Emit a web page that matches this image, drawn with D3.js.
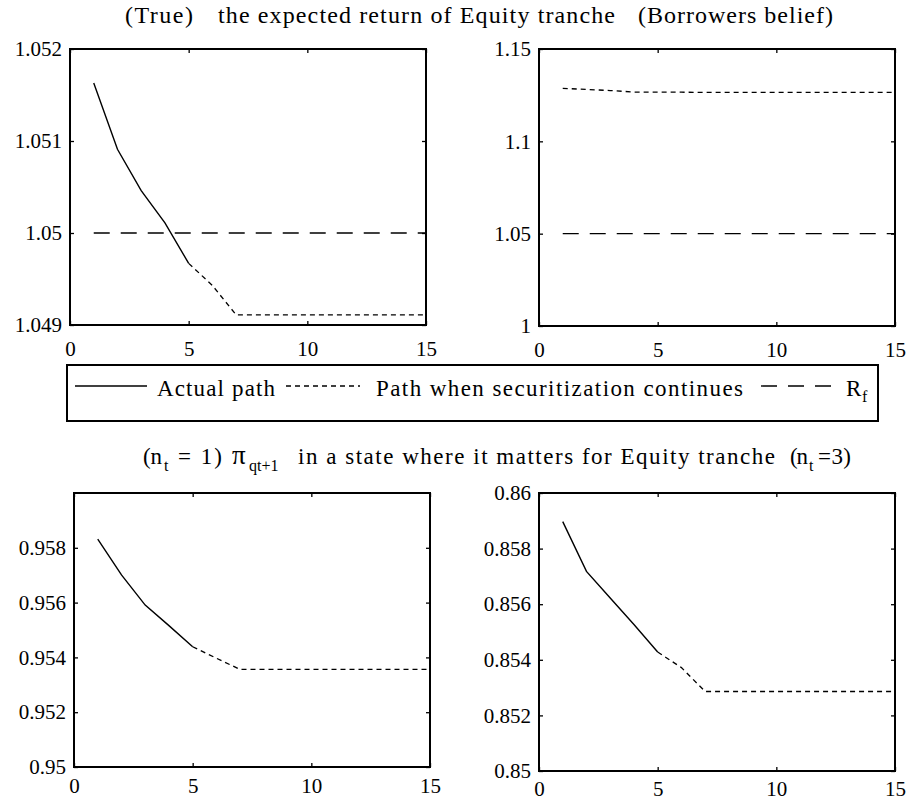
<!DOCTYPE html>
<html>
<head>
<meta charset="utf-8">
<script src="https://cdn.jsdelivr.net/npm/d3@7"></script>
<style>
  body { margin: 0; background: #fff; }
  svg text { font-family: "Liberation Serif", "Tinos", "Times New Roman", "Nimbus Roman", "DejaVu Serif", serif; }
</style>
</head>
<body>
<svg id="fig" width="907" height="803"></svg>
<script>
// Periods on the horizontal axis
const periods = [1, 2, 3, 4, 5, 6, 7, 8, 9, 10, 11, 12, 13, 14, 15];
const xTicks = [0, 5, 10, 15];
// Last period of the actual path; afterwards securitization continues
const lastActual = 5;
// Risk-free gross return
const riskFree = 1.05;

// Expected return of the equity tranche, true probabilities
const equityReturnTrue = [1.05163, 1.05091, 1.05046, 1.05011, 1.04967, 1.04943, 1.04911,
  1.04911, 1.04911, 1.04911, 1.04911, 1.04911, 1.04911, 1.04911, 1.04911];
// Expected return of the equity tranche, borrowers' belief
const equityReturnBorrowers = [1.1287, 1.1281, 1.1275, 1.1267, 1.1266, 1.1266, 1.1265,
  1.1265, 1.1265, 1.1265, 1.1265, 1.1265, 1.1265, 1.1265, 1.1265];
// pi_{q,t+1} in the state that matters for the equity tranche, n_t = 1
const piStateN1 = [0.95832, 0.95701, 0.95591, 0.95516, 0.95439, 0.95397, 0.95356,
  0.95356, 0.95356, 0.95356, 0.95356, 0.95356, 0.95356, 0.95356, 0.95356];
// pi_{q,t+1} in the state that matters for the equity tranche, n_t = 3
const piStateN3 = [0.85897, 0.85718, 0.85622, 0.85527, 0.85428, 0.85372, 0.85286,
  0.85286, 0.85286, 0.85286, 0.85286, 0.85286, 0.85286, 0.85286, 0.85286];

const yTicksTrue = [1.049, 1.05, 1.051, 1.052];
const yTicksBorrowers = [1, 1.05, 1.1, 1.15];
const yTicksN1 = [0.95, 0.952, 0.954, 0.956, 0.958];
const yTicksN3 = [0.85, 0.852, 0.854, 0.856, 0.858, 0.86];

const FONT = "'Liberation Serif', 'Tinos', 'Times New Roman', 'Nimbus Roman', 'DejaVu Serif', serif";
const svg = d3.select("#fig");
const fmt = d => String(+d.toFixed(4));

const panels = [
  { box: [70, 426, 49, 325], yDomain: [1.049, 1.052], yTicks: yTicksTrue,
    values: equityReturnTrue, split: true, rf: true, xPad: 16 },
  { box: [539, 895, 49, 326], yDomain: [1, 1.15], yTicks: yTicksBorrowers,
    values: equityReturnBorrowers, split: false, rf: true, xPad: 16 },
  { box: [74, 430, 493, 767], yDomain: [0.95, 0.96], yTicks: yTicksN1,
    values: piStateN1, split: true, rf: false, xPad: 11 },
  { box: [539, 895, 493, 771], yDomain: [0.85, 0.86], yTicks: yTicksN3,
    values: piStateN3, split: true, rf: false, xPad: 10 }
];

const SOLID = null, DOTTED = "5,4", DASHED = "16,11";

panels.forEach(p => {
  const [x0, x1, y0, y1] = p.box;
  const x = d3.scaleLinear().domain([0, 15]).range([x0, x1]);
  const y = d3.scaleLinear().domain(p.yDomain).range([y1, y0]);
  const g = svg.append("g");

  const styleAxis = sel => {
    sel.attr("font-family", null).attr("font-size", null);
    sel.select(".domain").remove();
    sel.selectAll("line").attr("stroke", "#000").attr("stroke-width", 1.3);
    sel.selectAll("text").style("font-family", FONT)
      .style("font-size", "21px").attr("fill", "#000");
  };

  // bottom and left axes with inward ticks
  g.append("g").attr("transform", `translate(0,${y1})`)
    .call(d3.axisBottom(x).tickValues(xTicks).tickFormat(fmt).tickSize(-4).tickSizeOuter(0).tickPadding(p.xPad))
    .call(styleAxis);
  g.append("g").attr("transform", `translate(${x0},0)`)
    .call(d3.axisLeft(y).tickValues(p.yTicks).tickFormat(fmt).tickSize(-4).tickSizeOuter(0).tickPadding(8))
    .call(styleAxis);
  // mirrored ticks on top and right
  g.append("g").attr("transform", `translate(0,${y0})`)
    .call(d3.axisTop(x).tickValues(xTicks).tickFormat("").tickSize(-4).tickSizeOuter(0))
    .call(styleAxis);
  g.append("g").attr("transform", `translate(${x1},0)`)
    .call(d3.axisRight(y).tickValues(p.yTicks).tickFormat("").tickSize(-4).tickSizeOuter(0))
    .call(styleAxis);

  const line = d3.line().x(d => x(d[0])).y(d => y(d[1]));
  const pts = periods.map((t, i) => [t, p.values[i]]);

  if (p.rf) {
    g.append("path")
      .attr("d", line(periods.map(t => [t, riskFree])))
      .attr("fill", "none").attr("stroke", "#000").attr("stroke-width", 1.3)
      .attr("stroke-dasharray", DASHED);
  }
  if (p.split) {
    g.append("path").attr("d", line(pts.filter(d => d[0] <= lastActual)))
      .attr("fill", "none").attr("stroke", "#000").attr("stroke-width", 1.4);
    g.append("path").attr("d", line(pts.filter(d => d[0] >= lastActual)))
      .attr("fill", "none").attr("stroke", "#000").attr("stroke-width", 1.3)
      .attr("stroke-dasharray", DOTTED);
  } else {
    g.append("path").attr("d", line(pts))
      .attr("fill", "none").attr("stroke", "#000").attr("stroke-width", 1.3)
      .attr("stroke-dasharray", DOTTED);
  }

  g.append("rect").attr("x", x0).attr("y", y0).attr("width", x1 - x0).attr("height", y1 - y0)
    .attr("fill", "none").attr("stroke", "#000").attr("stroke-width", 2);
});

// text helper
function txt(s, x, yb, size, len, anchor) {
  const t = svg.append("text").attr("x", x).attr("y", yb)
    .style("font-family", FONT).style("font-size", size + "px")
    .attr("fill", "#000").text(s);
  if (len) t.attr("textLength", len).attr("lengthAdjust", "spacing");
  if (anchor) t.attr("text-anchor", anchor);
  return t;
}

// top title
txt("(True)", 125, 23, 24, 68);
txt("the expected return of Equity tranche", 218, 23, 24, 397);
txt("(Borrowers belief)", 638, 23, 24, 195);

// legend
const leg = { x0: 67, x1: 878, y0: 365, y1: 421, ly: 386, tb: 396 };
svg.append("rect").attr("x", leg.x0).attr("y", leg.y0)
  .attr("width", leg.x1 - leg.x0).attr("height", leg.y1 - leg.y0)
  .attr("fill", "#fff").attr("stroke", "#000").attr("stroke-width", 2);
const legendItems = [
  { dash: SOLID, a: 75, b: 147, label: "Actual path", tx: 157, len: 118 },
  { dash: DOTTED, a: 286, b: 360, label: "Path when securitization continues", tx: 376, len: 367 },
  { dash: DASHED, a: 761, b: 832, label: null }
];
legendItems.forEach(it => {
  const l = svg.append("line").attr("x1", it.a).attr("x2", it.b).attr("y1", leg.ly).attr("y2", leg.ly)
    .attr("stroke", "#000").attr("stroke-width", 1.4);
  if (it.dash) l.attr("stroke-dasharray", it.dash);
  if (it.label) txt(it.label, it.tx, leg.tb, 23, it.len);
});
txt("R", 846, leg.tb, 23);
txt("f", 862, leg.tb + 6, 16);

// second title
const tb = 464;
txt("(n", 143, tb, 23, 19);
txt("t", 164, tb + 7, 16);
txt("= 1)", 178, tb, 23, 44);
txt("\u03c0", 232, tb, 27);
txt("qt+1", 249, tb + 7, 16);
txt("in a state where it matters for Equity tranche", 298, tb, 23, 477);
txt("(n", 790, tb, 23, 18);
txt("t", 809, tb + 7, 16);
txt("=3)", 818, tb, 23, 33);
</script>
</body>
</html>
